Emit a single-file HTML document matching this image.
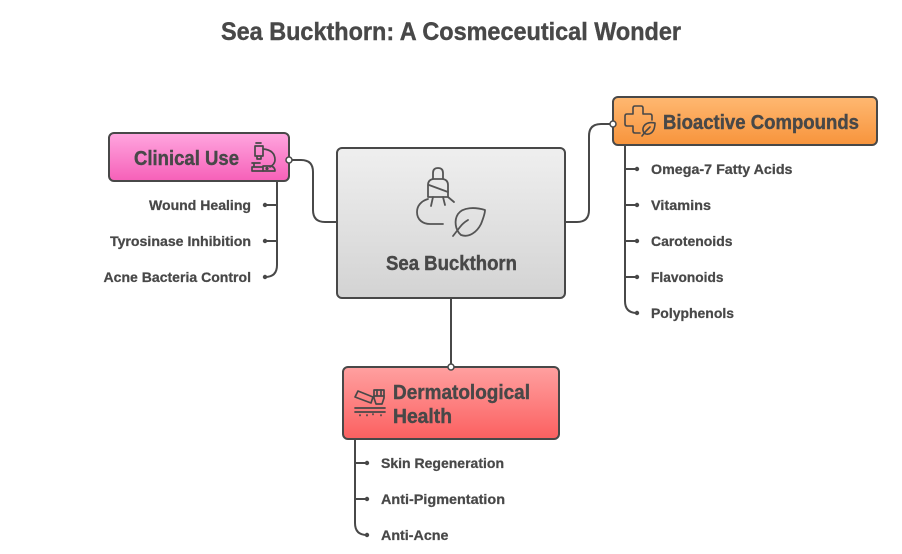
<!DOCTYPE html>
<html>
<head>
<meta charset="utf-8">
<style>
html,body{margin:0;padding:0;background:#fff;width:902px;height:554px;overflow:hidden}
svg{display:block}
text{font-family:"Liberation Sans",sans-serif;font-weight:700;fill:#484848;stroke:#484848;stroke-width:.3}
.i{font-size:14px;stroke-width:.25}
.h{font-size:20px;stroke-width:.4}
.c{fill:none;stroke:#484848;stroke-width:2;stroke-linecap:round;stroke-linejoin:round}
.t{fill:none;stroke:#484848;stroke-width:1.6;stroke-linecap:round;stroke-linejoin:round}
</style>
</head>
<body>
<svg width="902" height="554" viewBox="0 0 902 554" xmlns="http://www.w3.org/2000/svg">
<defs>
<linearGradient id="gp" x1="0" y1="0" x2="0" y2="1"><stop offset="0" stop-color="#ffa6df"/><stop offset="1" stop-color="#f660b8"/></linearGradient>
<linearGradient id="go" x1="0" y1="0" x2="0" y2="1"><stop offset="0" stop-color="#ffb871"/><stop offset="1" stop-color="#f7943c"/></linearGradient>
<linearGradient id="gr" x1="0" y1="0" x2="0" y2="1"><stop offset="0" stop-color="#ffa0a0"/><stop offset="1" stop-color="#fb6060"/></linearGradient>
<linearGradient id="gg" x1="0" y1="0" x2="0" y2="1"><stop offset="0" stop-color="#efefef"/><stop offset="1" stop-color="#d3d3d3"/></linearGradient>
</defs>

<text x="221" y="40" font-size="25" style="stroke-width:.4" textLength="460" lengthAdjust="spacingAndGlyphs">Sea Buckthorn: A Cosmeceutical Wonder</text>

<!-- main connectors -->
<path class="c" d="M289 160H301Q313 160 313 172V210Q313 222 325 222H337"/>
<path class="c" d="M565 222H577Q589 222 589 210V136Q589 124 601 124H613"/>
<path class="c" d="M451 298V367"/>

<!-- branch lines -->
<path class="c" d="M277 181V265Q277 277 265 277M277 205H265M277 241H265"/>
<path class="c" d="M625 145V301Q625 313 637 313M625 169H637M625 205H637M625 241H637M625 277H637"/>
<path class="c" d="M355 439V523Q355 535 367 535M355 463H367M355 499H367"/>
<g fill="#484848">
<circle cx="265" cy="205" r="2.200"/><circle cx="265" cy="241" r="2.200"/><circle cx="265" cy="277" r="2.200"/>
<circle cx="637" cy="169" r="2.200"/><circle cx="637" cy="205" r="2.200"/><circle cx="637" cy="241" r="2.200"/><circle cx="637" cy="277" r="2.200"/><circle cx="637" cy="313" r="2.200"/>
<circle cx="367" cy="463" r="2.200"/><circle cx="367" cy="499" r="2.200"/><circle cx="367" cy="535" r="2.200"/>
</g>

<!-- boxes -->
<rect x="337" y="148" width="228" height="150" rx="5" fill="url(#gg)" stroke="#484848" stroke-width="2"/>
<rect x="109" y="133" width="180" height="48" rx="5" fill="url(#gp)" stroke="#484848" stroke-width="2"/>
<rect x="613" y="97" width="264" height="48" rx="5" fill="url(#go)" stroke="#484848" stroke-width="2"/>
<rect x="343" y="367" width="216" height="72" rx="5" fill="url(#gr)" stroke="#484848" stroke-width="2"/>

<!-- connector end dots -->
<g fill="#fff" stroke="#484848" stroke-width="1.5">
<circle cx="289" cy="160" r="3"/>
<circle cx="613" cy="124" r="3"/>
<circle cx="451" cy="367" r="3"/>
</g>

<!-- box labels -->
<text class="h" x="134" y="165" textLength="105" lengthAdjust="spacingAndGlyphs">Clinical Use</text>
<text class="h" x="663" y="129" textLength="196" lengthAdjust="spacingAndGlyphs">Bioactive Compounds</text>
<text class="h" x="393" y="399" textLength="137" lengthAdjust="spacingAndGlyphs">Dermatological</text>
<text class="h" x="393" y="423" textLength="59" lengthAdjust="spacingAndGlyphs">Health</text>
<text class="h" x="386" y="270" textLength="131" lengthAdjust="spacingAndGlyphs">Sea Buckthorn</text>

<!-- items -->
<text class="i" x="149" y="210" textLength="102" lengthAdjust="spacingAndGlyphs">Wound Healing</text>
<text class="i" x="110" y="246" textLength="141" lengthAdjust="spacingAndGlyphs">Tyrosinase Inhibition</text>
<text class="i" x="103.500" y="282" textLength="147.500" lengthAdjust="spacingAndGlyphs">Acne Bacteria Control</text>
<text class="i" x="651" y="174" textLength="141.500" lengthAdjust="spacingAndGlyphs">Omega-7 Fatty Acids</text>
<text class="i" x="651" y="210" textLength="60" lengthAdjust="spacingAndGlyphs">Vitamins</text>
<text class="i" x="651" y="246" textLength="81.500" lengthAdjust="spacingAndGlyphs">Carotenoids</text>
<text class="i" x="651" y="282" textLength="72.500" lengthAdjust="spacingAndGlyphs">Flavonoids</text>
<text class="i" x="651" y="318" textLength="83" lengthAdjust="spacingAndGlyphs">Polyphenols</text>
<text class="i" x="381" y="468" textLength="123" lengthAdjust="spacingAndGlyphs">Skin Regeneration</text>
<text class="i" x="381" y="504" textLength="124" lengthAdjust="spacingAndGlyphs">Anti-Pigmentation</text>
<text class="i" x="381" y="540" textLength="67.500" lengthAdjust="spacingAndGlyphs">Anti-Acne</text>

<!-- center icon -->
<g class="t" style="stroke-width:1.8;stroke:#555">
<path d="M433 179V173Q433 168 438 168Q443 168 443 173V179Z"/>
<path d="M433 179Q428 180 428 185V197H448V185Q448 180 443 179"/>
<path d="M429 185L448 192"/>
<path d="M433 197L431 206M443 197L445 205M448 197L454 202"/>
<path d="M428 199C421 201 417 206 417 212C417 220 423 224 430 224H443"/>
<path d="M485 210C475 207 463 207 458 214C454 220 455 230 461 235C469 238 477 232 481 224C483 219 485 214 485 210Z"/>
<path d="M453 236L460 227Q463 223 468 220"/>
</g>

<!-- microscope icon -->
<g class="t" style="stroke-width:1.7">
<path d="M256 143H261M255 146H263V156H255ZM257 156V159H261V156"/>
<path d="M263 149Q275 150 275 160Q275 164 270 167"/>
<path d="M252 163H260M254 163V167M252 167H263V171H252Z"/>
<path d="M263 166H271Q275 167 275 171H263"/>
<circle cx="267" cy="168.500" r=".8"/>
</g>

<!-- plus leaf icon -->
<g class="t">
<path d="M652 120V116Q652 114 650 114H643V108Q643 106 641 106H635Q633 106 633 108V114H627Q625 114 625 116V124Q625 126 627 126H633V131Q633 133 635 133H640"/>
<path d="M655 123C650 122 646 123 644 126C642 129 643 133 646 134C650 135 653 132 654 129Q655 126 655 123Z"/>
<path d="M642 136L646 131L650 127"/>
</g>

<!-- dermatology icon -->
<g class="t" style="stroke-width:1.7">
<path d="M358 391L373 397L371 403L355 397Z"/>
<path d="M374 390H384V398L382 404H376L374 398Z"/>
<path d="M377 390V396M381 390V396M374 396H384"/>
<path d="M355 408H385M355 412H385"/>
<path d="M360 415V415.500M367 415V415.500M373 414V414.500M381 415V415.500"/>
</g>
</svg>
</body>
</html>
